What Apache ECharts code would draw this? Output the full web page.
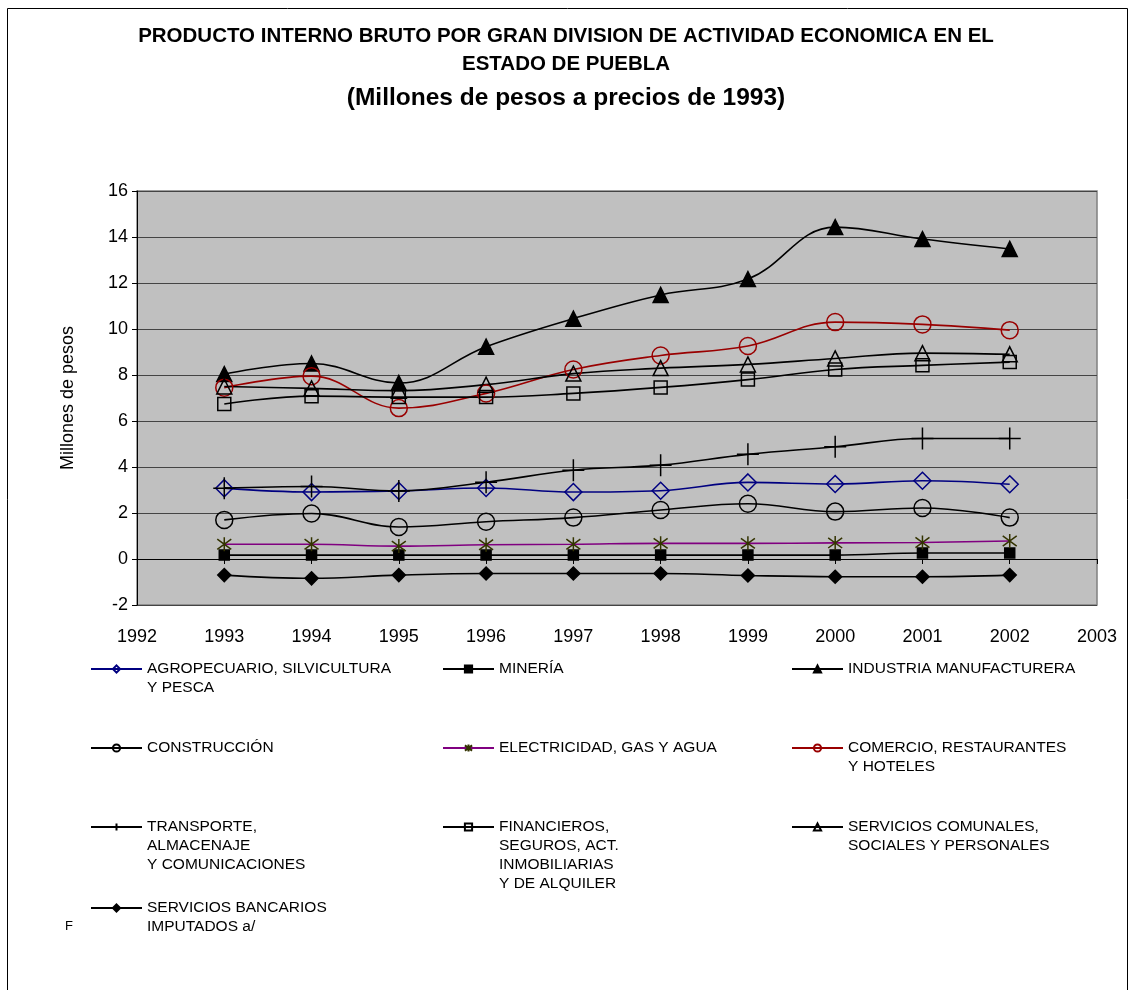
<!DOCTYPE html>
<html>
<head>
<meta charset="utf-8">
<script src="https://cdn.jsdelivr.net/npm/echarts@6/dist/echarts.min.js"></script>
<style>
  html, body { margin: 0; padding: 0; background: #fff; }
  #chart { width: 1132px; height: 990px; }
</style>
</head>
<body>
<div id="chart"></div>
<script>
// datos (millones de pesos)
var years = [1993, 1994, 1995, 1996, 1997, 1998, 1999, 2000, 2001, 2002];
var agro = [3.08, 2.91, 2.96, 3.09, 2.91, 2.97, 3.33, 3.26, 3.4, 3.25];
var mineria = [0.17, 0.17, 0.17, 0.17, 0.17, 0.17, 0.17, 0.17, 0.26, 0.26];
var industria = [8.04, 8.5, 7.65, 9.23, 10.45, 11.48, 12.17, 14.43, 13.91, 13.48];
var construccion = [1.7, 1.98, 1.39, 1.62, 1.8, 2.13, 2.4, 2.06, 2.22, 1.8];
var electricidad = [0.64, 0.64, 0.56, 0.62, 0.64, 0.68, 0.68, 0.7, 0.72, 0.78];
var comercio = [7.45, 7.95, 6.56, 7.2, 8.24, 8.85, 9.26, 10.3, 10.2, 9.95];
var transporte = [3.08, 3.15, 2.96, 3.34, 3.86, 4.08, 4.55, 4.88, 5.24, 5.24];
var financieros = [6.74, 7.08, 7.04, 7.04, 7.2, 7.46, 7.8, 8.24, 8.42, 8.56];
var comunales = [7.5, 7.42, 7.32, 7.58, 8.06, 8.3, 8.46, 8.72, 8.95, 8.9];
var bancarios = [-0.7, -0.84, -0.7, -0.63, -0.63, -0.63, -0.72, -0.77, -0.77, -0.7];

var yTicks = [-2, 0, 2, 4, 6, 8, 10, 12, 14, 16];
var xTicks = [1992, 1993, 1994, 1995, 1996, 1997, 1998, 1999, 2000, 2001, 2002, 2003];

var names = ['agro', 'mineria', 'industria', 'construccion', 'electricidad',
             'comercio', 'transporte', 'financieros', 'comunales', 'bancarios'];
var labels = [
    'AGROPECUARIO, SILVICULTURA\nY PESCA',
    'MINERÍA',
    'INDUSTRIA MANUFACTURERA',
    'CONSTRUCCIÓN',
    'ELECTRICIDAD, GAS Y AGUA',
    'COMERCIO, RESTAURANTES\nY HOTELES',
    'TRANSPORTE,\nALMACENAJE\nY COMUNICACIONES',
    'FINANCIEROS,\nSEGUROS, ACT.\nINMOBILIARIAS\nY DE ALQUILER',
    'SERVICIOS COMUNALES,\nSOCIALES Y PERSONALES',
    'SERVICIOS BANCARIOS\nIMPUTADOS a/'
];

var plus = 'path://M0,-10L0,10M-10,0L10,0';
var star = 'path://M-8,-8L8,8M-8,8L8,-8M0,-11L0,11';

function pairs(arr) {
    return years.map(function (y, i) { return [y, arr[i]]; });
}

function line(name, arr, color, symbol, size, fill, markColor) {
    return {
        name: name,
        type: 'line',
        xAxisIndex: 0,
        yAxisIndex: 0,
        smooth: 0.4,
        data: pairs(arr),
        symbol: symbol,
        symbolSize: size,
        lineStyle: { color: color, width: 1.6 },
        itemStyle: {
            color: fill,
            borderColor: markColor || color,
            borderWidth: 1.5
        },
        emphasis: { disabled: true },
        z: 3
    };
}

var myChart = echarts.init(document.getElementById('chart'));

// posiciones de la leyenda (3 columnas); el icono va con la primera linea
var colX = [90, 442, 791];
var rowY = [669, 748, 827, 908];
var lh = 19;
var legends = names.map(function (n, i) {
    var lines = labels[i].split('\n').length;
    return {
        data: [n],
        left: colX[i % 3],
        top: rowY[Math.floor(i / 3)] - (2 * lines - 1) * lh / 2,
        padding: 0,
        itemWidth: 51,
        itemHeight: 9,
        itemGap: 0,
        selectedMode: false,
        formatter: function (name) {
            var k = names.indexOf(name);
            var t = labels[k];
            var pad = t.split('\n').length - 1;
            return new Array(pad + 1).join('\n') + t;
        },
        textStyle: {
            fontFamily: 'Liberation Sans, Arial, sans-serif',
            fontSize: 15.5,
            color: '#000',
            lineHeight: lh
        }
    };
});

var option = {
    backgroundColor: '#fff',
    animation: false,
    title: [{
        text: 'PRODUCTO INTERNO BRUTO POR GRAN DIVISION DE ACTIVIDAD ECONOMICA EN EL\nESTADO DE PUEBLA',
        left: 'center',
        top: 17,
        textStyle: {
            fontFamily: 'Liberation Sans, Arial, sans-serif',
            fontWeight: 'bold',
            fontSize: 20.5,
            lineHeight: 28,
            color: '#000'
        }
    }, {
        text: '(Millones de pesos a precios de 1993)',
        left: 'center',
        top: 81,
        textStyle: {
            fontFamily: 'Liberation Sans, Arial, sans-serif',
            fontWeight: 'bold',
            fontSize: 24.5,
            color: '#000'
        }
    }],
    graphic: [{
        type: 'rect',
        shape: { x: 7.5, y: 8.5, width: 1120, height: 1000 },
        style: { fill: 'none', stroke: '#000', lineWidth: 1 },
        silent: true
    }, {
        type: 'text',
        left: 65,
        top: 920,
        style: { text: 'F', fontSize: 13, fill: '#000', fontFamily: 'Liberation Sans, Arial, sans-serif' },
        silent: true
    }],
    legend: legends,
    grid: {
        left: 137,
        top: 191,
        right: 35,
        bottom: 385,
        show: true,
        backgroundColor: '#C0C0C0',
        borderColor: '#808080',
        borderWidth: 1.5
    },
    xAxis: [{
        type: 'value',
        min: 1992,
        max: 2003,
        interval: 1,
        position: 'bottom',
        axisLine: { onZero: true, lineStyle: { color: '#000', width: 1 } },
        axisTick: { show: true, length: 5, lineStyle: { color: '#000' } },
        axisLabel: { show: false },
        splitLine: { show: false }
    }, {
        type: 'value',
        min: 1992,
        max: 2003,
        interval: 1,
        position: 'bottom',
        axisLine: { show: false, onZero: false },
        axisTick: { show: false },
        axisLabel: {
            margin: 23,
            fontSize: 18,
            color: '#000',
            fontFamily: 'Liberation Sans, Arial, sans-serif',
            formatter: function (v) { return xTicks.indexOf(v) >= 0 ? String(v) : ''; }
        },
        splitLine: { show: false }
    }],
    yAxis: [{
        type: 'value',
        min: yTicks[0],
        max: yTicks[yTicks.length - 1],
        interval: 2,
        name: 'Millones de pesos',
        nameLocation: 'middle',
        nameGap: 60,
        nameTextStyle: { fontSize: 18, color: '#000', fontFamily: 'Liberation Sans, Arial, sans-serif' },
        axisLine: { show: true, lineStyle: { color: '#000', width: 1 } },
        axisTick: { show: true, length: 5, lineStyle: { color: '#000' } },
        axisLabel: {
            margin: 9,
            fontSize: 18,
            color: '#000',
            fontFamily: 'Liberation Sans, Arial, sans-serif'
        },
        splitLine: { show: true, lineStyle: { color: '#444', width: 1 } }
    }],
    series: [
        line('agro', agro, '#000080', 'diamond', 17, 'transparent'),
        line('mineria', mineria, '#000', 'rect', 10, '#000'),
        line('industria', industria, '#000', 'triangle', 15, '#000'),
        line('construccion', construccion, '#000', 'circle', 17, 'transparent'),
        line('electricidad', electricidad, '#800080', star, 14, 'transparent', '#333300'),
        line('comercio', comercio, '#990000', 'circle', 17, 'transparent'),
        line('transporte', transporte, '#000', plus, 22, 'transparent'),
        line('financieros', financieros, '#000', 'rect', 13, 'transparent'),
        line('comunales', comunales, '#000', 'triangle', 15, 'transparent'),
        line('bancarios', bancarios, '#000', 'diamond', 13, '#000')
    ]
};

myChart.setOption(option);
</script>
</body>
</html>
